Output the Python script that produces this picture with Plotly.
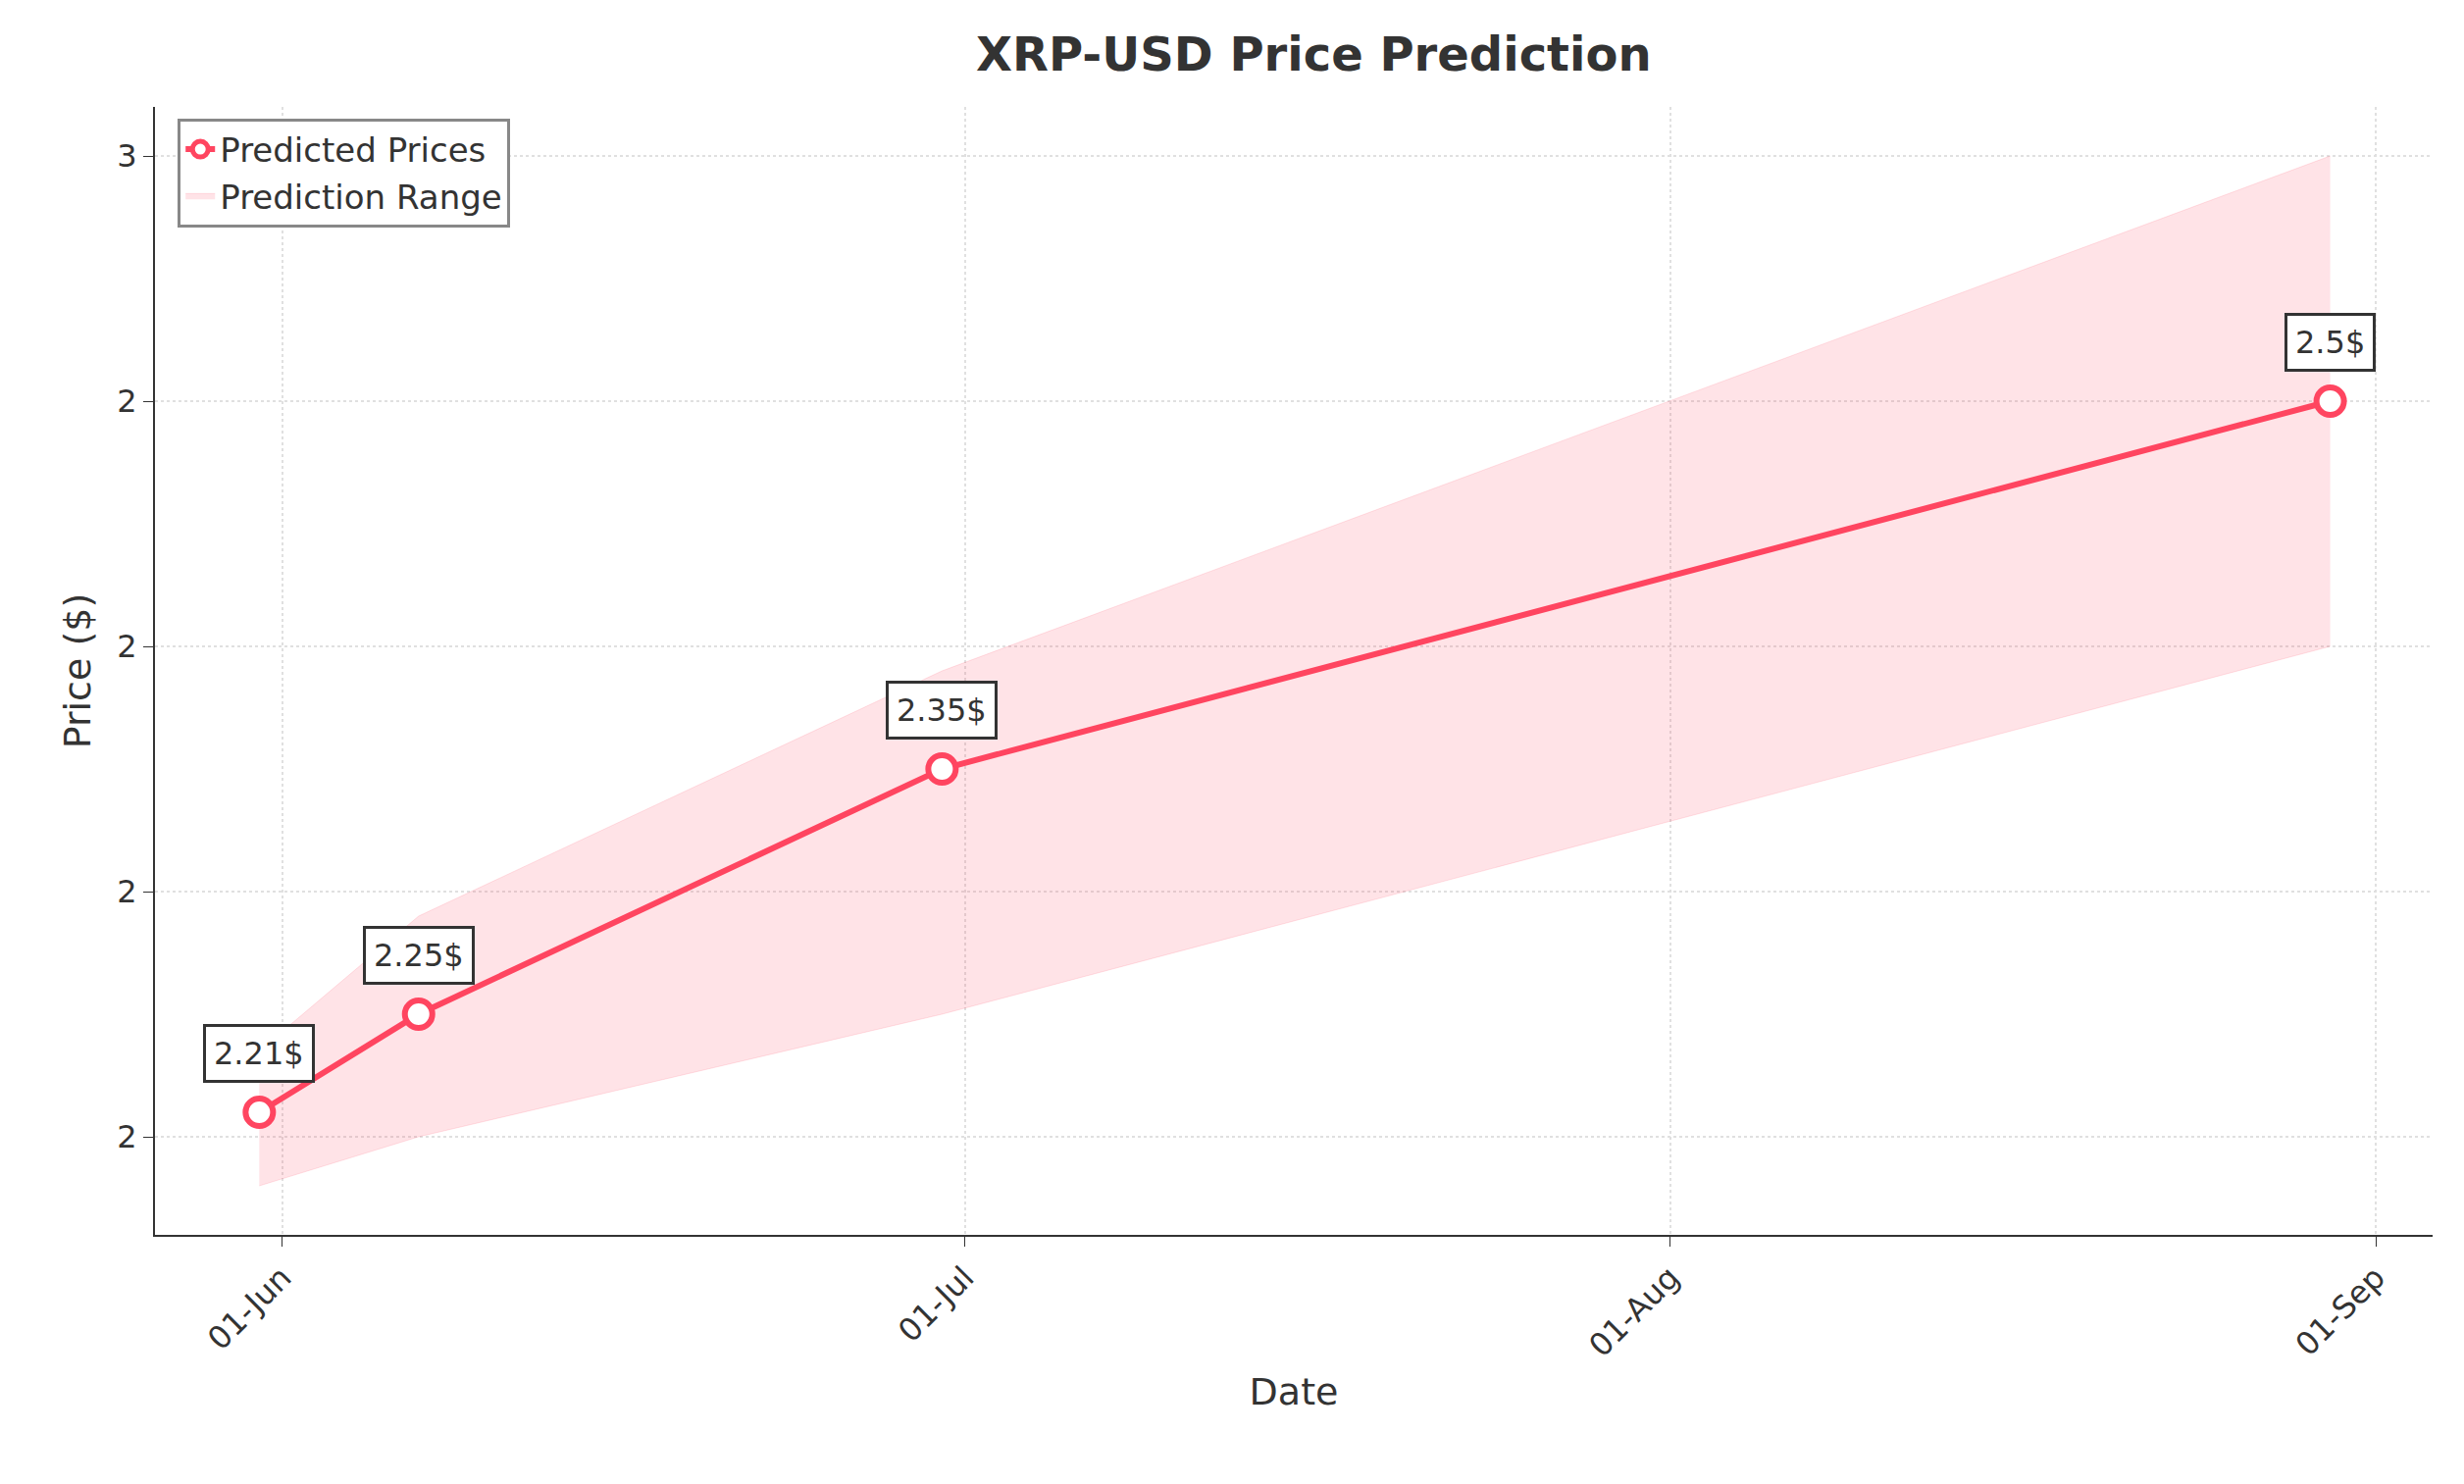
import plotly.graph_objects as go

dates = ["2025-05-31", "2025-06-07", "2025-06-30", "2025-08-30"]
predicted = [2.21, 2.25, 2.35, 2.5]
upper = [2.235, 2.29, 2.39, 2.6]
lower = [2.18, 2.2, 2.25, 2.4]
labels = ["2.21$", "2.25$", "2.35$", "2.5$"]
ytick_vals = [2.2, 2.3, 2.4, 2.5, 2.6]
ytick_text = ["2", "2", "2", "2", "3"]
xtick_vals = ["2025-06-01", "2025-07-01", "2025-08-01", "2025-09-01"]
xtick_text = ["01-Jun", "01-Jul", "01-Aug", "01-Sep"]

red = "#ff4560"
fig = go.Figure()
fig.add_trace(go.Scatter(x=dates, y=upper, mode="lines", line=dict(width=1, color="rgba(255,69,96,0.15)"),
                         showlegend=False, hoverinfo="skip"))
fig.add_trace(go.Scatter(x=dates, y=lower, mode="lines", line=dict(width=1, color="rgba(255,69,96,0.15)"),
                         fill="tonexty", fillcolor="rgba(255,69,96,0.15)", name="Prediction Range"))
fig.add_trace(go.Scatter(x=dates, y=predicted, mode="lines+markers", name="Predicted Prices",
                         line=dict(color=red, width=6),
                         marker=dict(size=28, color="white", line=dict(color=red, width=6))))

for d, p, t in zip(dates, predicted, labels):
    fig.add_annotation(x=d, y=p, text=t, showarrow=False, yshift=60,
                       font=dict(size=32, color="#333"), bgcolor="white",
                       bordercolor="#333", borderwidth=3, borderpad=8)

grid = dict(showgrid=True, gridcolor="#e0e0e0", griddash="dot", gridwidth=2,
            showline=True, linecolor="#333", linewidth=2, ticks="outside", ticklen=10,
            tickcolor="#333", tickfont=dict(size=32, color="#333"), zeroline=False)
fig.update_xaxes(range=["2025-05-26 10:00", "2025-09-03 12:00"], tickvals=xtick_vals, ticktext=xtick_text,
                 tickangle=-45, title=dict(text="Date", font=dict(size=38, color="#333")), mirror=False, **grid)
fig.update_yaxes(range=[2.16, 2.62], tickvals=ytick_vals, ticktext=ytick_text,
                 title=dict(text="Price ($)", font=dict(size=38, color="#333")), **grid)
fig.update_layout(
    width=2512, height=1513, plot_bgcolor="white", paper_bgcolor="white",
    font=dict(family="DejaVu Sans", color="#333"),
    title=dict(text="<b>XRP-USD Price Prediction</b>", x=0.53, xanchor="center", y=0.98,
               font=dict(size=48, color="#333")),
    margin=dict(l=150, r=40, t=101, b=262),
    legend=dict(x=0.01, y=0.99, xanchor="left", yanchor="top", bgcolor="white",
                bordercolor="#888", borderwidth=3, font=dict(size=34)),
)
fig.write_html("out.html")
